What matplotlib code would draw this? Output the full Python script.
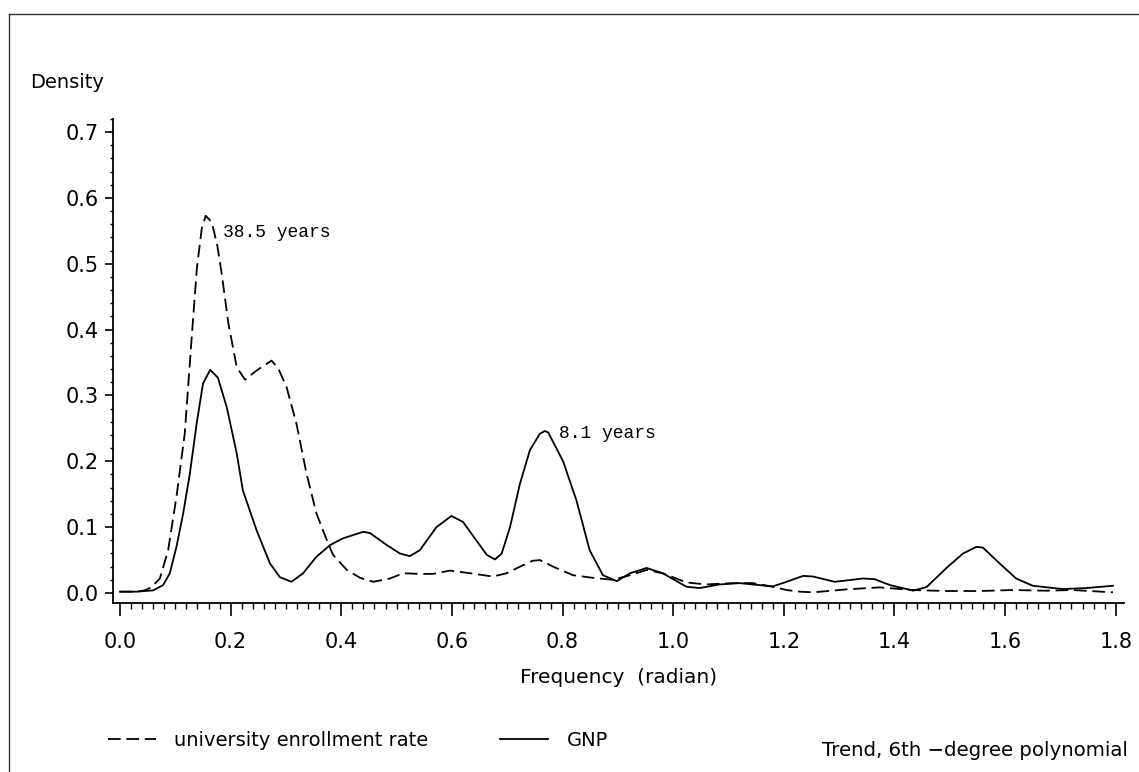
import matplotlib
matplotlib.use("Agg")
import matplotlib.pyplot as plt
from matplotlib.lines import Line2D
from matplotlib.ticker import MultipleLocator, FormatStrFormatter

# spectral density
gnp_freq = [0.0, 0.03, 0.06, 0.078, 0.09, 0.102, 0.114, 0.126, 0.139, 0.15,
            0.163, 0.177, 0.193, 0.211, 0.222, 0.247, 0.271, 0.289, 0.31, 0.331,
            0.355, 0.38, 0.403, 0.44, 0.452, 0.482, 0.506, 0.524, 0.542, 0.572,
            0.599, 0.62, 0.644, 0.663, 0.678, 0.69, 0.705, 0.723, 0.741, 0.759,
            0.768, 0.774, 0.801, 0.825, 0.849, 0.873, 0.898, 0.922, 0.952, 0.981,
            1.024, 1.048, 1.084, 1.12, 1.18, 1.205, 1.235, 1.253, 1.292, 1.313,
            1.343, 1.364, 1.392, 1.434, 1.458, 1.494, 1.524, 1.548, 1.56, 1.59,
            1.62, 1.65, 1.704, 1.747, 1.795]
gnp_dens = [0.002, 0.002, 0.004, 0.012, 0.03, 0.07, 0.12, 0.18, 0.26, 0.318,
            0.339, 0.327, 0.282, 0.212, 0.156, 0.095, 0.045, 0.024, 0.017, 0.03,
            0.055, 0.073, 0.083, 0.093, 0.091, 0.073, 0.06, 0.056, 0.065, 0.10,
            0.117, 0.108, 0.080, 0.058, 0.051, 0.06, 0.10, 0.166, 0.217, 0.242,
            0.246, 0.244, 0.2, 0.141, 0.065, 0.027, 0.018, 0.030, 0.038, 0.030,
            0.0095, 0.0075, 0.013, 0.015, 0.010, 0.017, 0.026, 0.025, 0.017, 0.019,
            0.022, 0.021, 0.012, 0.0035, 0.009, 0.038, 0.06, 0.07, 0.069, 0.045,
            0.022, 0.011, 0.006, 0.0075, 0.011]

univ_freq = [0.0, 0.03, 0.045, 0.057, 0.072, 0.087, 0.102, 0.117, 0.13, 0.139,
             0.148, 0.155, 0.166, 0.176, 0.184, 0.196, 0.211, 0.226, 0.247, 0.274,
             0.286, 0.301, 0.319, 0.337, 0.355, 0.374, 0.385, 0.41, 0.434, 0.458,
             0.488, 0.512, 0.542, 0.566, 0.596, 0.633, 0.674, 0.699, 0.723, 0.746,
             0.759, 0.783, 0.819, 0.855, 0.891, 0.922, 0.952, 0.981, 1.024, 1.06,
             1.108, 1.144, 1.18, 1.205, 1.229, 1.253, 1.313, 1.373, 1.434, 1.494,
             1.554, 1.614, 1.675, 1.722, 1.795]
univ_dens = [0.002, 0.002, 0.004, 0.009, 0.022, 0.065, 0.146, 0.242, 0.393, 0.494,
             0.555, 0.573, 0.563, 0.527, 0.484, 0.409, 0.343, 0.324, 0.338, 0.353,
             0.341, 0.313, 0.257, 0.182, 0.121, 0.080, 0.058, 0.035, 0.023, 0.017,
             0.022, 0.030, 0.029, 0.029, 0.034, 0.030, 0.025, 0.030, 0.040, 0.049,
             0.050, 0.040, 0.027, 0.023, 0.020, 0.027, 0.035, 0.030, 0.016, 0.013,
             0.015, 0.015, 0.0095, 0.0045, 0.002, 0.001, 0.0055, 0.0085, 0.0045, 0.003,
             0.003, 0.0045, 0.0035, 0.0045, 0.001]

peak_labels = ["38.5 years", "8.1 years"]
peak_pos = [(0.186, 0.547), (0.793, 0.242)]

W, H = 1139, 772
fig = plt.figure(figsize=(W / 100, H / 100), dpi=100)
ax = fig.add_axes([113 / W, 1 - 603 / H, (1124 - 113) / W, (603 - 119) / H])

l_univ, = ax.plot(univ_freq, univ_dens, color="black", lw=1.3, dashes=(7, 3.2),
                  label="university enrollment rate")
l_gnp, = ax.plot(gnp_freq, gnp_dens, color="black", lw=1.3, label="GNP")

for txt, (px, py) in zip(peak_labels, peak_pos):
    ax.text(px, py, txt, family="Liberation Mono", fontsize=13, va="center", ha="left")

ax.set_xlim(-0.0127, 1.815)
ax.set_ylim(-0.0152, 0.72)
ax.spines["top"].set_visible(False)
ax.spines["right"].set_visible(False)
for s in ("left", "bottom"):
    ax.spines[s].set_linewidth(1.3)

ax.xaxis.set_major_locator(MultipleLocator(0.2))
ax.xaxis.set_minor_locator(MultipleLocator(0.02))
ax.yaxis.set_major_locator(MultipleLocator(0.1))
ax.yaxis.set_minor_locator(MultipleLocator(0.02))
ax.xaxis.set_major_formatter(FormatStrFormatter("%.1f"))
ax.yaxis.set_major_formatter(FormatStrFormatter("%.1f"))
ax.tick_params(axis="x", which="major", length=9, width=1.2, pad=12, labelsize=15)
ax.tick_params(axis="x", which="minor", length=4.5, width=1.0)
ax.tick_params(axis="y", which="major", length=6, width=1.2, pad=4, labelsize=15)
ax.tick_params(axis="y", which="minor", length=2.5, width=1.0)

ax.set_xlabel("Frequency  (radian)", fontsize=14.5)
ax.xaxis.set_label_coords(0.5, -0.153)
ax.xaxis.label.set_va("center")

fig.text(30 / W, 1 - 82 / H, "Density", fontsize=14, ha="left", va="center")
fig.text(1128 / W, 1 - 750 / H, "Trend, 6th \u2212degree polynomial", fontsize=14.2,
         ha="right", va="center")

fig.legend(handles=[l_univ, l_gnp], loc="center left",
           bbox_to_anchor=(108 / W, 1 - 740 / H), ncol=2, frameon=False,
           fontsize=14, handlelength=2.45, handletextpad=0.95, columnspacing=3.7,
           borderpad=0, borderaxespad=0)

# page frame from the scan (top and left edges)
fig.add_artist(Line2D([9 / W, 1.0], [1 - 14 / H, 1 - 14 / H], color="#333333", lw=1.0))
fig.add_artist(Line2D([9 / W, 9 / W], [0.0, 1 - 14 / H], color="#333333", lw=1.0))

fig.savefig("out.png", dpi=100)
